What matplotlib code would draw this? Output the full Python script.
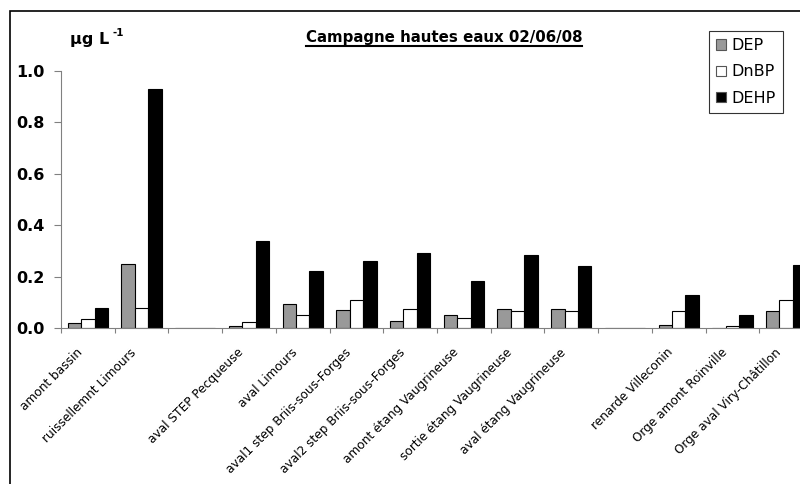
import numpy as np
import matplotlib.pyplot as plt
from matplotlib.patches import Rectangle

plt.rcParams['font.family'] = ['DejaVu Sans']

sites = ['amont bassin', 'ruissellemnt Limours', '', 'aval STEP Pecqueuse',
         'aval Limours', 'aval1 step Briis-sous-Forges',
         'aval2 step Briis-sous-Forges', 'amont étang Vaugrineuse',
         'sortie étang Vaugrineuse', 'aval étang Vaugrineuse', '',
         'renarde Villeconin', 'Orge amont Roinville', 'Orge aval Viry-Châtillon']
dep = [0.021, 0.248, 0, 0.007, 0.092, 0.071, 0.027, 0.049, 0.075, 0.075, 0,
       0.010, 0.0, 0.066]
dnbp = [0.034, 0.079, 0, 0.025, 0.049, 0.109, 0.075, 0.040, 0.066, 0.066, 0,
        0.066, 0.007, 0.110]
dehp = [0.079, 0.929, 0, 0.339, 0.221, 0.262, 0.292, 0.182, 0.283, 0.241, 0,
        0.130, 0.049, 0.245]

fig = plt.figure(figsize=(8, 4.84), dpi=100)
# cadre du graphique (coupé à droite et en bas)
fig.patches.append(Rectangle((9.5 / 800, -0.1), 1.2, 1 - 11.5 / 484 + 0.1,
                             transform=fig.transFigure, fill=False,
                             edgecolor='black', linewidth=1.2))

ax = fig.add_axes([61 / 800, 1 - 328 / 484, 752 / 800, 257 / 484])
x = np.arange(len(sites))
w = 0.25
ax.bar(x - w, dep, w, color='#999999', edgecolor='black', linewidth=0.8, label='DEP')
ax.bar(x, dnbp, w, color='white', edgecolor='black', linewidth=0.8, label='DnBP')
ax.bar(x + w, dehp, w, color='black', edgecolor='black', linewidth=0.8, label='DEHP')

ax.set_xlim(-0.5, len(sites) - 0.5)
ax.set_ylim(0, 1.0)
yt = np.arange(0, 1.01, 0.2)
ax.set_yticks(yt)
ax.set_yticklabels(['%.1f' % v for v in yt], fontsize=11.5, fontweight='bold')
ax.set_xticks(np.arange(-0.5, len(sites), 1))
ax.set_xticklabels([])
ax.tick_params(axis='x', length=3.6, color='#808080', direction='out')
ax.tick_params(axis='y', length=5, color='#808080', direction='out', pad=7)
for s in ['top', 'right']:
    ax.spines[s].set_visible(False)
for s in ['left', 'bottom']:
    ax.spines[s].set_color('#808080')

# noms des stations, inclinés à 45°
for i, name in enumerate(sites):
    ax.annotate(name, xy=(i, 0), xycoords=('data', 'axes fraction'),
                xytext=(-12, -18), textcoords='offset pixels',
                rotation=45, rotation_mode='anchor', ha='right', va='top',
                fontsize=8.7, annotation_clip=False)

# unité
fig.text(70 / 800, 1 - 44 / 484, 'µg L', fontsize=11.5, fontweight='bold')
fig.text(112 / 800, 1 - 36 / 484, '-1', fontsize=7.5, fontweight='bold')

fig.text(444 / 800, 1 - 42 / 484, 'Campagne hautes eaux 02/06/08', fontsize=10.8,
         fontweight='bold', ha='center')
fig.add_artist(plt.Line2D([306 / 800, 582 / 800], [1 - 46 / 484, 1 - 46 / 484],
                          transform=fig.transFigure, color='black', linewidth=1.5))

leg = fig.legend(loc='upper left', bbox_to_anchor=(709 / 800, 1 - 31 / 484),
                 fontsize=11.5, frameon=True, fancybox=False, edgecolor='black',
                 handlelength=0.6, handleheight=0.6, handletextpad=0.35,
                 borderpad=0.45, labelspacing=0.7, borderaxespad=0)
leg.get_frame().set_linewidth(0.8)
for h in leg.legend_handles:
    h.set_edgecolor('#555555')

fig.savefig('out.png', dpi=100)
